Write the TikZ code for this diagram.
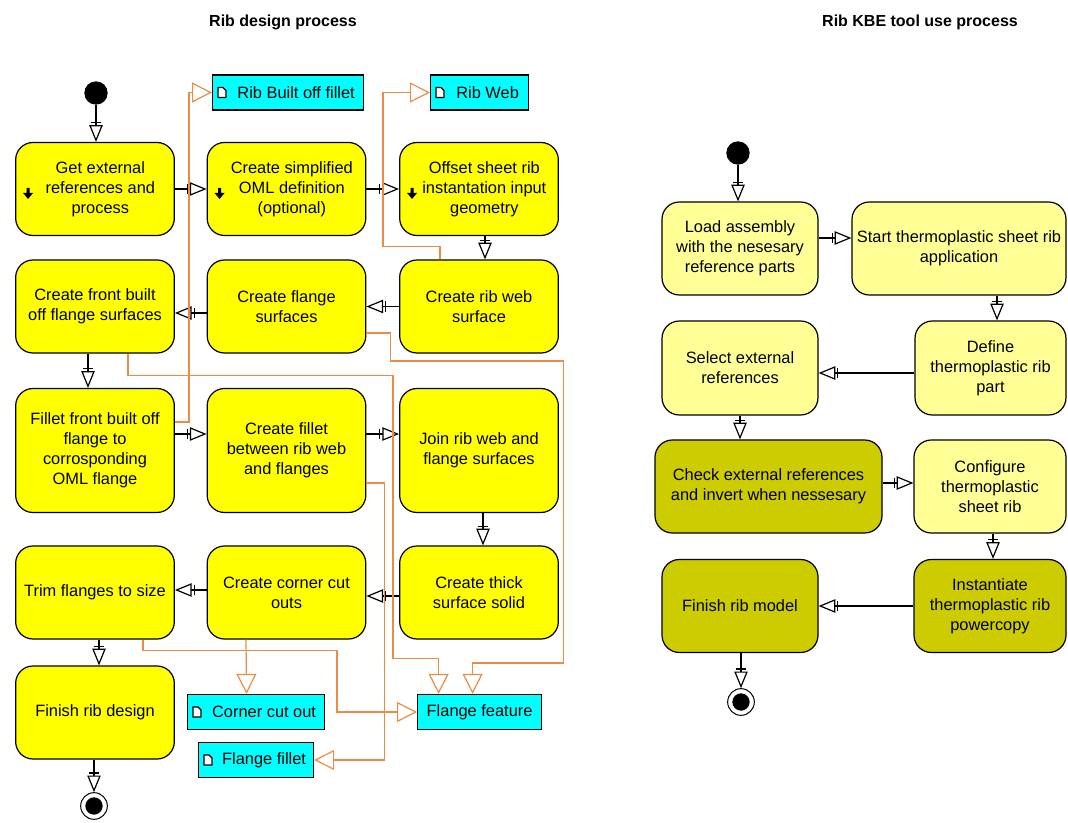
\documentclass[tikz,border=0pt]{standalone}
\usepackage{fontspec}
\setmainfont{Liberation Sans}
\usetikzlibrary{arrows.meta,calc}
\definecolor{actyel}{RGB}{255,255,0}
\definecolor{kbelight}{RGB}{255,255,150}
\definecolor{kbedark}{RGB}{204,204,0}
\definecolor{objcyan}{RGB}{0,255,255}
\definecolor{objflow}{RGB}{232,140,70}
\begin{document}
\begin{tikzpicture}[x=0.75pt,y=-0.75pt,every node/.style={font=\fontsize{12.3}{15}\selectfont,align=center,inner sep=1.5pt},
  act/.style={draw,line width=0.9pt,rounded corners=13pt,fill=actyel,minimum width=119pt,minimum height=69.75pt},
  obj/.style={draw,line width=0.9pt,fill=objcyan,minimum height=26.25pt,anchor=west},
  flow/.style={line width=0.9pt,-{Bar[width=8pt,sep=1.5pt]Triangle[open,length=12.5pt,width=10pt,fill=white]}},
  oflow/.style={objflow,line width=0.9pt,-{Triangle[open,length=15pt,width=15pt]}},
  ttl/.style={font=\fontsize{12}{14}\selectfont\bfseries}]
\useasboundingbox (0,0) rectangle (1068,823);
\node[ttl] (t1) at (283,22) {Rib design process};\node[ttl] (t2) at (920,22) {Rib KBE tool use process};
% rib design process
\node[circle,fill=black,minimum size=17.5pt,inner sep=0] (s1) at (96,93) {};
\node[act] (d11) at (95,189) {\hspace*{8pt}Get external\\\hspace*{8pt}references and\\\hspace*{8pt}process};
\node[act] (d12) at (286.5,189) {\hspace*{8pt}Create simplified\\\hspace*{8pt}OML definition\\\hspace*{8pt}(optional)};
\node[act] (d13) at (479,189) {\hspace*{8pt}Offset sheet rib\\\hspace*{8pt}instantation input\\\hspace*{8pt}geometry};
\node[act] (d21) at (95,306.5) {Create front built\\off flange surfaces};
\node[act] (d22) at (286.5,306.5) {Create flange\\surfaces};
\node[act] (d23) at (479,306.5) {Create rib web\\surface};
\node[act,minimum height=93pt] (d31) at (95,450.5) {Fillet front built off\\flange to\\corrosponding\\OML flange};
\node[act,minimum height=93pt] (d32) at (286.5,450.5) {Create fillet\\between rib web\\and flanges};
\node[act,minimum height=93pt] (d33) at (479,450.5) {Join rib web and\\flange surfaces};
\node[act] (d41) at (95,592.5) {Trim flanges to size};
\node[act] (d42) at (286.5,592.5) {Create corner cut\\outs};
\node[act] (d43) at (479,592.5) {Create thick\\surface solid};
\node[act] (d51) at (95,712.5) {Finish rib design};
\node[circle,draw,line width=0.75pt,fill=white,minimum size=20pt,inner sep=0] (f1) at (94,806) {};\fill (f1) circle (6.5pt);
\foreach \n in {d11,d12,d13}{\fill ($(\n.west)+(11.5,-1)$) -- ++(3,0) -- ++(0,5) -- ++(3.5,0) -- ++(-5,6) -- ++(-5,-6) -- ++(3.5,0) -- cycle;}
% objects
\node[obj,minimum width=113.25pt] (o1) at (212,92.5) {\hspace*{12pt}Rib Built off fillet};
\node[obj,minimum width=73.5pt] (o2) at (430,92.5) {\hspace*{12pt}Rib Web};
\node[obj,minimum width=102.75pt] (o3) at (187,712) {\hspace*{12pt}Corner cut out};
\node[obj,minimum width=93pt] (o4) at (417,712) {Flange feature};
\node[obj,minimum width=86.25pt] (o5) at (198,760) {\hspace*{12pt}Flange fillet};
\foreach \n in {o1,o2,o3,o5}{\draw[fill=white,line width=1pt] ($(\n.west)+(6,-5)$) -- ++(5,0) -- ++(3,3) -- ++(0,7) -- ++(-8,0) -- cycle;}
% control flow
\draw[flow] (s1) -- (s1 |- d11.north);
\draw[flow] (d11) -- (d12);\draw[flow] (d12) -- (d13);
\draw[flow] ($(d13.south)+(6,0)$) -- ($(d23.north)+(6,0)$);
\draw[flow] (d23) -- (d22);
\draw[flow] ($(d22.west)+(0,6.5)$) -- ($(d21.east)+(0,6.5)$);
\draw[flow] ($(d21.south)+(-7,0)$) -- ($(d31.north)+(-7,0)$);
\draw[flow] ($(d31.east)+(0,-16.5)$) -- ($(d32.west)+(0,-16.5)$);
\draw[flow] ($(d32.east)+(0,-16.5)$) -- ($(d33.west)+(0,-16.5)$);
\draw[flow] ($(d33.south)+(4,0)$) -- ($(d43.north)+(4,0)$);
\draw[flow] ($(d43.west)+(0,3.5)$) -- ($(d42.east)+(0,3.5)$);
\draw[flow] ($(d42.west)+(0,-2.5)$) -- ($(d41.east)+(0,-2.5)$);
\draw[flow] ($(d41.south)+(4,0)$) -- ($(d51.north)+(4,0)$);
\draw[flow] (d51.south -| f1) -- (f1);
% object flow
\draw[oflow] ($(d31.east)+(0,-28.5)$) -- ++(14,0) |- (o1.west);
\draw[oflow] ($(d23.north)+(-39,0)$) -- ++(0,-13) -- ++(-57,0) |- (o2.west);
\draw[oflow] ($(d21.south)+(33,0)$) -- ++(0,22) -- ++(265,0) -- ++(0,283) -| ($(o4.north)+(-41,0)$);
\draw[oflow] ($(d22.east)+(0,26.5)$) -- ++(24,0) -- ++(0,28) -- ++(173,0) -- ++(0,302) -| ($(o4.north)+(-7,0)$);
\draw[oflow] ($(d32.east)+(0,32.5)$) -- ++(18,0) |- (o5.east);
\draw[oflow] ($(d41.south)+(48,0)$) -- ++(0,11) -| ($(o4.west)+(-80,0)$) -- (o4.west);
\draw[oflow] ($(d42.south)+(-40.5,0)$) -- ($(o3.north)+(-9.5,0)$);
% rib KBE tool use process
\node[circle,fill=black,minimum size=17.5pt,inner sep=0] (s2) at (738,153) {};
\node[act,fill=kbelight,minimum width=117pt] (k1) at (740,248.5) {Load assembly\\with the nesesary\\reference parts};
\node[act,fill=kbelight,minimum width=160.5pt] (k2) at (959,248.5) {Start thermoplastic sheet rib\\application};
\node[act,fill=kbelight,minimum width=113.25pt,minimum height=70.5pt] (k3) at (990.5,368) {Define\\thermoplastic rib\\part};
\node[act,fill=kbelight,minimum width=117pt,minimum height=70.5pt] (k4) at (740,368) {Select external\\references};
\node[act,fill=kbedark,minimum width=170.25pt] (k5) at (768.5,486.5) {Check external references\\and invert when nessesary};
\node[act,fill=kbelight,minimum width=114pt] (k6) at (990,486.5) {Configure\\thermoplastic\\sheet rib};
\node[act,fill=kbedark,minimum width=114pt] (k7) at (990,606) {Instantiate\\thermoplastic rib\\powercopy};
\node[act,fill=kbedark,minimum width=117pt] (k8) at (740,606) {Finish rib model};
\node[circle,draw,line width=0.75pt,fill=white,minimum size=20pt,inner sep=0] (f2) at (741,702) {};\fill (f2) circle (6.5pt);
\draw[flow] (s2) -- (s2 |- k1.north);
\draw[flow] ($(k1.east)+(0,-10.5)$) -- ($(k2.west)+(0,-10.5)$);
\draw[flow] ($(k3.north |- k2.south)+(6.5,0)$) -- ($(k3.north)+(6.5,0)$);
\draw[flow] ($(k3.west)+(0,5)$) -- ($(k4.east)+(0,5)$);
\draw[flow] (k4) -- (k4 |- k5.north);
\draw[flow] ($(k5.east)+(0,-3.5)$) -- ($(k6.west)+(0,-3.5)$);
\draw[flow] ($(k6.south)+(3,0)$) -- ($(k7.north)+(3,0)$);
\draw[flow] (k7) -- (k8);
\draw[flow] (k8.south -| f2) -- (f2);
\end{tikzpicture}
\end{document}
